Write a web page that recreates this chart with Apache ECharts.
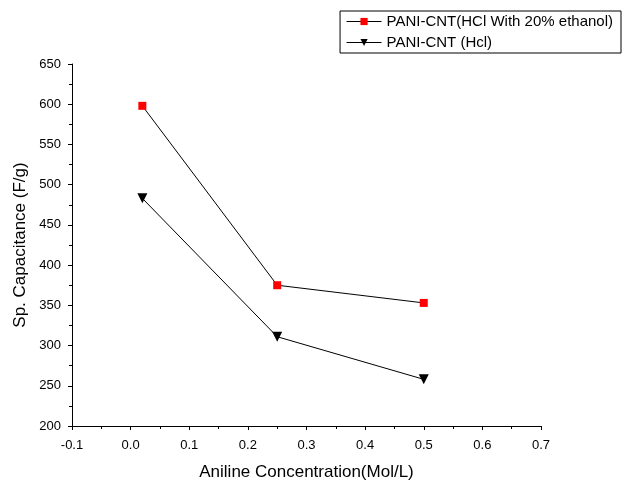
<!DOCTYPE html>
<html><head><meta charset="utf-8">
<script src="https://cdn.jsdelivr.net/npm/echarts@6/dist/echarts.min.js"></script>
<style>html,body{margin:0;padding:0;background:#fff}#c{width:623px;height:482px}</style>
</head><body><div id="c"></div>
<script>
const concentration = [0.02, 0.25, 0.5];
const ethanolValues = [598, 375, 353];
const hclValues = [483, 311, 258];
const seriesNames = ['PANI-CNT(HCl With 20% ethanol)', 'PANI-CNT (Hcl)'];

const chart = echarts.init(document.getElementById('c'), null, {renderer: 'canvas'});
const font = 'Arial, "Liberation Sans", sans-serif';
chart.setOption({
  backgroundColor: '#fff',
  animation: false,
  grid: {left: 72, right: 82, top: 64, bottom: 56, containLabel: false, outerBoundsMode: 'none'},
  legend: {
    orient: 'vertical', right: 2, top: 11, align: 'left',
    borderColor: '#000', borderWidth: 1, borderRadius: 0,
    padding: [3, 8, 3, 6], itemGap: 6, itemWidth: 35, itemHeight: 9,
    lineStyle: {width: 1},
    textStyle: {fontFamily: font, fontSize: 15, color: '#000'},
    data: seriesNames
  },
  xAxis: {
    type: 'value', min: -0.1, max: 0.7, interval: 0.1,
    name: 'Aniline Concentration(Mol/L)', nameLocation: 'middle', nameGap: 38,
    nameTextStyle: {fontFamily: font, fontSize: 17, color: '#000'},
    axisLine: {show: true, onZero: false, lineStyle: {color: '#000', width: 1}},
    axisTick: {show: true, length: 4, lineStyle: {color: '#000'}},
    minorTick: {show: true, splitNumber: 2, length: 3, lineStyle: {color: '#000'}},
    splitLine: {show: false},
    axisLabel: {fontFamily: font, fontSize: 13, color: '#000', margin: 13,
      formatter: v => v.toFixed(1)}
  },
  yAxis: {
    type: 'value', min: 200, max: 650, interval: 50,
    name: 'Sp. Capacitance (F/g)', nameLocation: 'middle', nameGap: 43,
    nameTextStyle: {fontFamily: font, fontSize: 17, color: '#000'},
    axisLine: {show: true, onZero: false, lineStyle: {color: '#000', width: 1}},
    axisTick: {show: true, length: 4, lineStyle: {color: '#000'}},
    minorTick: {show: true, splitNumber: 2, length: 3, lineStyle: {color: '#000'}},
    splitLine: {show: false},
    axisLabel: {fontFamily: font, fontSize: 13, color: '#000', margin: 11}
  },
  series: [
    {
      name: seriesNames[0], type: 'line',
      data: concentration.map((x, i) => [x, ethanolValues[i]]),
      symbol: 'rect', symbolSize: 8,
      itemStyle: {color: '#ff0000'},
      lineStyle: {color: '#000', width: 1}
    },
    {
      name: seriesNames[1], type: 'line',
      data: concentration.map((x, i) => [x, hclValues[i]]),
      symbol: 'triangle', symbolRotate: 180, symbolSize: 10,
      itemStyle: {color: '#000'},
      lineStyle: {color: '#000', width: 1}
    }
  ]
});
</script></body></html>
